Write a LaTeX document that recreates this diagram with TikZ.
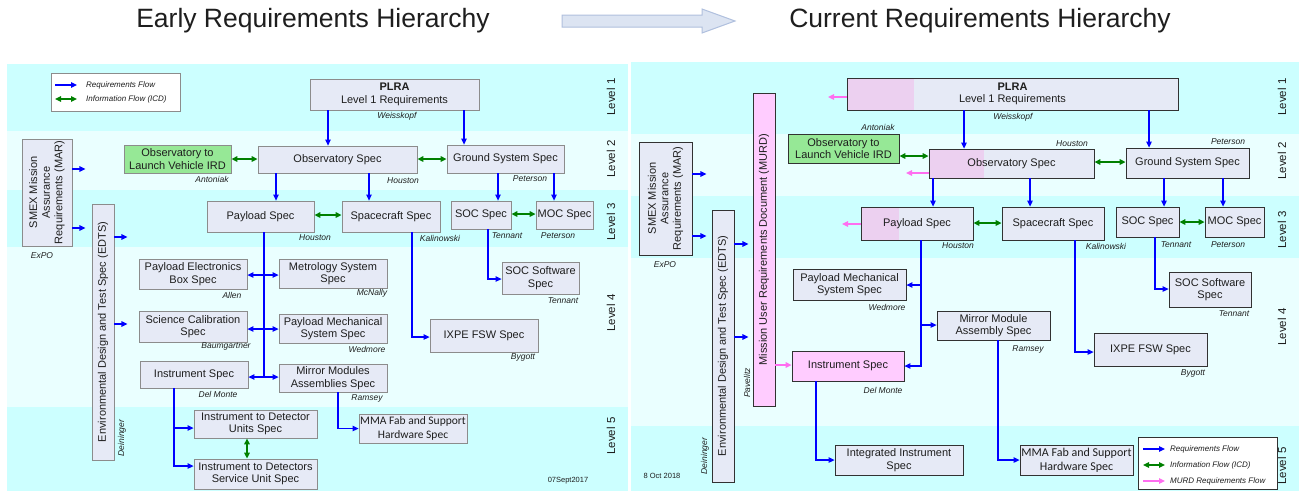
\documentclass[tikz,border=0pt]{standalone}
\usepackage{fontspec}
\setmainfont{Liberation Sans}
\newfontfamily\calfont{Carlito}
\usetikzlibrary{arrows.meta}
\definecolor{bandD}{RGB}{204,255,255}
\definecolor{bandL}{RGB}{234,255,255}
\definecolor{boxfill}{RGB}{230,234,246}
\definecolor{boxline}{RGB}{140,140,140}
\definecolor{boxlineR}{RGB}{50,50,50}
\definecolor{grnfill}{RGB}{150,232,150}
\definecolor{pinkfill}{RGB}{255,204,255}
\definecolor{pinkov}{RGB}{236,208,240}
\definecolor{reqblue}{RGB}{0,0,255}
\definecolor{icdgreen}{RGB}{0,128,0}
\definecolor{murdpink}{RGB}{255,110,240}
\definecolor{txt}{RGB}{30,30,30}
\definecolor{tarrfill}{RGB}{220,228,242}
\definecolor{tarrline}{RGB}{176,192,222}
\newcommand{\bx}[7][]{\node[box,#1,minimum width={(#5-#3)*1pt},minimum height={(#6-#4)*1pt}] (#2) at ({(#3+#5)/2},{(#4+#6)/2}) {#7};}
\newcommand{\rbx}[7][]{\node[box,rotate=90,#1,minimum width={(#6-#4)*1pt},minimum height={(#5-#3)*1pt}] (#2) at ({(#3+#5)/2},{(#4+#6)/2}) {#7};}
\newcommand{\ovl}[5]{\fill[boxfill] (#1,#2) rectangle (#3,#4); \fill[pinkov] (#1,#2) rectangle (#5,#4);}
\begin{document}
\begin{tikzpicture}[x=1pt,y=-1pt,
  box/.style={draw=boxline,fill=boxfill,line width=0.8pt,inner sep=0pt,align=center,
    font=\fontsize{11}{12.6}\selectfont,text=txt},
  boxR/.style={box,draw=boxlineR},
  nm/.style={font=\fontsize{8.5}{10}\selectfont\itshape,text=txt,inner sep=0pt},
  lvl/.style={rotate=90,font=\fontsize{11.5}{12}\selectfont,text=txt,inner sep=0pt},
  req/.style={draw=reqblue,line width=1.2pt,-{Triangle[length=6pt,width=5.5pt]}},
  reqline/.style={draw=reqblue,line width=1.2pt},
  reqboth/.style={draw=reqblue,line width=1.2pt,{Triangle[length=6pt,width=5.5pt]}-{Triangle[length=6pt,width=5.5pt]}},
  icd/.style={draw=icdgreen,line width=1.4pt,{Triangle[length=6pt,width=5.5pt]}-{Triangle[length=6pt,width=5.5pt]}},
  murd/.style={draw=murdpink,line width=1.4pt,-{Triangle[length=6pt,width=5.5pt]}},
  lgt/.style={font=\fontsize{8}{9}\selectfont\itshape,text=txt,inner sep=0pt,anchor=west}]
\useasboundingbox (0,0) rectangle (1299,491);
\fill[white] (0,0) rectangle (1299,491);
% ---------- titles ----------
\node[font=\fontsize{26.5}{29}\selectfont,text=txt] (t1) at (313,21) {Early Requirements Hierarchy};
\node[font=\fontsize{26.5}{29}\selectfont,text=txt] (t2) at (980,21) {Current Requirements Hierarchy};
\draw[fill=tarrfill,draw=tarrline,line width=1pt] (562,15) -- (702,15) -- (702,9) -- (735,21) -- (702,33) -- (702,27) -- (562,27) -- cycle;
% ---------- bands left ----------
\fill[bandD] (7,64) rectangle (628,131);
\fill[bandL] (7,131) rectangle (628,190);
\fill[bandD] (7,190) rectangle (628,247);
\fill[bandL] (7,247) rectangle (628,407);
\fill[bandD] (7,407) rectangle (628,491);
% ---------- bands right ----------
\fill[bandD] (631,62) rectangle (1299,134);
\fill[bandL] (631,134) rectangle (1299,196);
\fill[bandD] (631,196) rectangle (1299,258);
\fill[bandL] (631,258) rectangle (1299,426);
\fill[bandD] (631,426) rectangle (1299,491);
% level labels
\node[lvl] (l1a) at (611,97) {Level 1};
\node[lvl] (l2a) at (611,159) {Level 2};
\node[lvl] (l3a) at (611,222) {Level 3};
\node[lvl] (l4a) at (611,313) {Level 4};
\node[lvl] (l5a) at (611,436) {Level 5};
\node[lvl] (l1b) at (1282,97) {Level 1};
\node[lvl] (l2b) at (1282,161) {Level 2};
\node[lvl] (l3b) at (1282,230) {Level 3};
\node[lvl] (l4b) at (1282,327) {Level 4};
\node[lvl] (l5b) at (1282,466) {Level 5};
% ================= LEFT PANEL =================
\node[draw=boxline,fill=white,line width=0.8pt,minimum width=129pt,minimum height=38pt,inner sep=0pt] (legL) at (115.5,92) {};
\coordinate (lga1) at (55,85); \coordinate (lgb1) at (77,85);
\coordinate (lga2) at (55,99); \coordinate (lgb2) at (77,99);
\draw[req] (lga1) -- (lgb1);
\draw[icd] (lga2) -- (lgb2);
\node[lgt] (lgt1) at (86,85) {Requirements Flow};
\node[lgt] (lgt2) at (86,99) {Information Flow (ICD)};

\bx{plraL}{310}{79}{479}{110}{\textbf{PLRA}\\Level 1 Requirements}
\bx[fill=grnfill]{irdL}{124}{145}{231}{173}{Observatory to\\Launch Vehicle IRD}
\bx{obsL}{258}{146}{417}{173}{Observatory Spec}
\bx{gndL}{447}{145}{564}{173}{Ground System Spec}
\rbx{smexL}{22}{139}{72}{246}{SMEX Mission\\Assurance\\Requirements (MAR)}
\rbx{edtsL}{92}{204}{114}{460}{Environmental Design and Test Spec (EDTS)}
\bx{payL}{207}{201}{314}{232}{Payload Spec}
\bx{scL}{342}{201}{440}{232}{Spacecraft Spec}
\bx{socL}{451}{201}{511}{229}{SOC Spec}
\bx{mocL}{536}{201}{593}{229}{MOC Spec}
\bx{socswL}{502}{262}{579}{294}{SOC Software\\Spec}
\bx{ixpeL}{430}{319}{538}{352}{IXPE FSW Spec}
\bx{pebL}{139}{259}{247}{289}{Payload Electronics\\Box Spec}
\bx{metL}{279}{259}{387}{288}{Metrology System\\Spec}
\bx{sclL}{139}{311}{247}{342}{Science Calibration\\Spec}
\bx{pmsL}{279}{314}{387}{343}{Payload Mechanical\\System Spec}
\bx{instL}{140}{361}{248}{388}{Instrument Spec}
\bx{mmaL}{279}{364}{387}{392}{Mirror Modules\\Assemblies Spec}
\bx[font=\calfont\fontsize{11.5}{13.5}\selectfont]{mfabL}{359}{414}{467}{443}{MMA Fab and Support\\Hardware Spec}
\bx{iduL}{194}{410}{317}{438}{Instrument to Detector\\Units Spec}
\bx{idsuL}{194}{459}{317}{489}{Instrument to Detectors\\Service Unit Spec}

\node[nm] (nWa) at (397,116) {Weisskopf};
\node[nm] (nAa) at (212,179) {Antoniak};
\node[nm] (nHa) at (403,181) {Houston};
\node[nm] (nPa) at (530,179) {Peterson};
\node[nm] (nHb) at (315,238) {Houston};
\node[nm] (nKa) at (440,238) {Kalinowski};
\node[nm] (nTa) at (507,236) {Tennant};
\node[nm] (nPb) at (558,236) {Peterson};
\node[nm] (nTb) at (563,301) {Tennant};
\node[nm] (nBa) at (523,357) {Bygott};
\node[nm] (nAl) at (232,295) {Allen};
\node[nm] (nMc) at (372,293) {McNally};
\node[nm] (nBg) at (226,346) {Baumgartner};
\node[nm] (nWe) at (367,349) {Wedmore};
\node[nm] (nDM) at (218,394) {Del Monte};
\node[nm] (nRa) at (367,398) {Ramsey};
\node[nm] (nEx) at (42,256) {ExPO};
\node[nm,rotate=90] (nDe) at (122,438) {Deininger};
\node[font=\fontsize{7.5}{9}\selectfont,text=txt,inner sep=0pt] (dateL) at (568,481) {07Sept2017};

% left connectors
\draw[req] (328,0 |- plraL.south) -- (328,0 |- obsL.north);
\draw[req] (464,0 |- plraL.south) -- (464,0 |- gndL.north);
\draw[req] (276,0 |- obsL.south) -- (276,0 |- payL.north);
\draw[req] (369,0 |- obsL.south) -- (369,0 |- scL.north);
\draw[req] (498,0 |- gndL.south) -- (498,0 |- socL.north);
\draw[req] (554,0 |- gndL.south) -- (554,0 |- mocL.north);
\draw[icd] (irdL.east |- 0,159) -- (obsL.west |- 0,159);
\draw[icd] (obsL.east |- 0,159) -- (gndL.west |- 0,159);
\draw[icd] (payL.east |- 0,215) -- (scL.west |- 0,215);
\draw[icd] (socL.east |- 0,214) -- (mocL.west |- 0,214);
\draw[req] (488,0 |- socL.south) |- (socswL.west |- 0,279);
\draw[req] (412,0 |- scL.south) |- (ixpeL.west |- 0,337);
\draw[reqline] (264,0 |- payL.south) -- (264,377);
\draw[reqboth] (pebL.east |- 0,275) -- (metL.west |- 0,275);
\draw[reqboth] (sclL.east |- 0,329) -- (pmsL.west |- 0,329);
\draw[reqboth] (instL.east |- 0,377) -- (mmaL.west |- 0,377);
\draw[req] (338,0 |- mmaL.south) |- (mfabL.west);
\draw[req] (174,0 |- instL.south) |- (iduL.west |- 0,428);
\draw[req] (174,0 |- instL.south) |- (idsuL.west |- 0,466);
\draw[icd] (247,0 |- iduL.south) -- (247,0 |- idsuL.north);
\draw[req] (smexL.south |- 0,169) -- ++(13,0);
\draw[req] (smexL.south |- 0,228) -- ++(13,0);
\draw[req] (edtsL.south |- 0,237) -- ++(13,0);
\draw[req] (edtsL.south |- 0,324) -- ++(13,0);

% ================= RIGHT PANEL =================
\ovl{847}{78}{1178}{110}{914}
\bx[boxR,fill=none]{plraR}{847}{78}{1178}{110}{\textbf{PLRA}\\Level 1 Requirements}
\bx[boxR,fill=grnfill]{irdR}{788}{134}{899}{163}{Observatory to\\Launch Vehicle IRD}
\ovl{929}{149}{1094}{178}{984}
\bx[boxR,fill=none]{obsR}{929}{149}{1094}{178}{Observatory Spec}
\bx[boxR]{gndR}{1126}{148}{1249}{178}{Ground System Spec}
\rbx[boxR,fill=pinkfill]{murdR}{753}{93}{775}{406}{Mission User Requirements Document (MURD)}
\rbx[boxR]{smexR}{639}{142}{692}{255}{SMEX Mission\\Assurance\\Requirements (MAR)}
\rbx[boxR]{edtsR}{712}{210}{734}{482}{Environmental Design and Test Spec (EDTS)}
\ovl{861}{207}{973}{240}{899}
\bx[boxR,fill=none]{payR}{861}{207}{973}{240}{Payload Spec}
\bx[boxR]{scR}{1002}{207}{1104}{240}{Spacecraft Spec}
\bx[boxR]{socR}{1116}{207}{1179}{237}{SOC Spec}
\bx[boxR]{mocR}{1205}{207}{1264}{237}{MOC Spec}
\bx[boxR]{socswR}{1169}{272}{1251}{307}{SOC Software\\Spec}
\bx[boxR]{pmsR}{793}{269}{906}{300}{Payload Mechanical\\System Spec}
\bx[boxR]{mmaR}{937}{311}{1050}{340}{Mirror Module\\Assembly Spec}
\bx[boxR]{ixpeR}{1094}{333}{1207}{366}{IXPE FSW Spec}
\bx[boxR,fill=pinkfill]{instR}{792}{351}{904}{381}{Instrument Spec}
\bx[boxR]{intR}{835}{445}{963}{475}{Integrated Instrument\\Spec}
\bx[boxR,font=\calfont\fontsize{12}{14}\selectfont]{mfabR}{1020}{445}{1133}{475}{MMA Fab and Support\\Hardware Spec}

\node[nm] (rWa) at (1013,117) {Weisskopf};
\node[nm] (rAn) at (878,127) {Antoniak};
\node[nm] (rHa) at (1072,144) {Houston};
\node[nm] (rPa) at (1228,142) {Peterson};
\node[nm] (rHb) at (958,246) {Houston};
\node[nm] (rKa) at (1106,246) {Kalinowski};
\node[nm] (rTa) at (1176,245) {Tennant};
\node[nm] (rPb) at (1228,245) {Peterson};
\node[nm] (rTb) at (1234,314) {Tennant};
\node[nm] (rBy) at (1193,373) {Bygott};
\node[nm] (rWe) at (887,307) {Wedmore};
\node[nm] (rRa) at (1028,349) {Ramsey};
\node[nm] (rDM) at (883,390) {Del Monte};
\node[nm] (rEx) at (665,265) {ExPO};
\node[nm,rotate=90] (rDe) at (705,456) {Deininger};
\node[nm,rotate=90] (rPv) at (747,383) {Pavelitz};
\node[font=\fontsize{7.5}{9}\selectfont,text=txt,inner sep=0pt] (dateR) at (662,476) {8 Oct 2018};

% right connectors
\draw[req] (964,0 |- plraR.south) -- (964,0 |- obsR.north);
\draw[req] (1149,0 |- plraR.south) -- (1149,0 |- gndR.north);
\draw[req] (933,0 |- obsR.south) -- (933,0 |- payR.north);
\draw[req] (1030,0 |- obsR.south) -- (1030,0 |- scR.north);
\draw[req] (1164,0 |- gndR.south) -- (1164,0 |- socR.north);
\draw[req] (1223,0 |- gndR.south) -- (1223,0 |- mocR.north);
\draw[icd] (irdR.east |- 0,156) -- (obsR.west |- 0,156);
\draw[icd] (obsR.east |- 0,162) -- (gndR.west |- 0,162);
\draw[icd] (payR.east |- 0,223) -- (scR.west |- 0,223);
\draw[icd] (socR.east |- 0,222) -- (mocR.west |- 0,222);
\draw[req] (1155,0 |- socR.south) |- (socswR.west |- 0,289);
\draw[req] (1075,0 |- scR.south) |- (ixpeR.west |- 0,352);
\draw[req] (921,0 |- payR.south) |- (instR.east |- 0,366);
\draw[req] (921,285) -- (pmsR.east |- 0,285);
\draw[req] (921,325) -- (mmaR.west |- 0,325);
\draw[req] (816,0 |- instR.south) |- (intR.west);
\draw[req] (998,0 |- mmaR.south) |- (mfabR.west);
\coordinate (pk1) at (828,97);
\coordinate (pk2) at (906,173);
\coordinate (pk3) at (842,224);
\draw[murd] (plraR.west |- pk1) -- (pk1);
\draw[murd] (obsR.west |- pk2) -- (pk2);
\draw[murd] (payR.west |- pk3) -- (pk3);
\draw[murd] (murdR.south |- 0,365) -- (instR.west |- 0,365);
\draw[req] (smexR.south |- 0,174) -- ++(14,0);
\draw[req] (smexR.south |- 0,236) -- ++(14,0);
\draw[req] (edtsR.south |- 0,244) -- ++(14,0);
\draw[req] (edtsR.south |- 0,337) -- ++(14,0);

% right legend
\node[draw=boxlineR,fill=white,line width=0.8pt,minimum width=139pt,minimum height=52pt,inner sep=0pt] (legR) at (1207.5,463) {};
\coordinate (rla1) at (1143,449); \coordinate (rlb1) at (1165,449);
\coordinate (rla2) at (1143,465); \coordinate (rlb2) at (1165,465);
\coordinate (rla3) at (1143,481); \coordinate (rlb3) at (1165,481);
\draw[req] (rla1) -- (rlb1);
\draw[icd] (rla2) -- (rlb2);
\draw[murd] (rla3) -- (rlb3);
\node[lgt] (rlt1) at (1170,449) {Requirements Flow};
\node[lgt] (rlt2) at (1170,465) {Information Flow (ICD)};
\node[lgt] (rlt3) at (1170,481) {MURD Requirements Flow};
\end{tikzpicture}
\end{document}
